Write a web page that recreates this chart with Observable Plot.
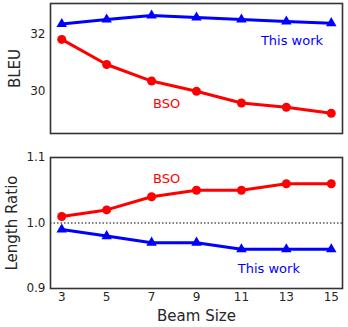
<!DOCTYPE html>
<html><head><meta charset="utf-8">
<script src="https://cdn.jsdelivr.net/npm/d3@7"></script>
<script src="https://cdn.jsdelivr.net/npm/@observablehq/plot@0.6"></script>
<style>body{margin:0;background:#fff;} #chart{width:348px;} svg{display:block;}</style>
</head><body><div id="chart"></div>
<script>
const beamSizes = [3, 5, 7, 9, 11, 13, 15];
const bleuThisWork = [32.36, 32.52, 32.66, 32.59, 32.52, 32.45, 32.39];
const bleuBSO = [31.82, 30.94, 30.36, 30.0, 29.59, 29.44, 29.23];
const ratioThisWork = [0.99, 0.98, 0.97, 0.97, 0.96, 0.96, 0.96];
const ratioBSO = [1.01, 1.02, 1.04, 1.05, 1.05, 1.06, 1.06];
const bleuTicks = [30, 32];
const ratioTicks = [0.9, 1.0, 1.1];

const RED = "#ff0000", BLUE = "#0000ff", INK = "#262626";
const mk = (vals) => beamSizes.map((b, i) => ({b, v: vals[i]}));
const style = {fontFamily: "DejaVu Sans", fontSize: "12px", color: INK, background: "#fff", overflow: "visible"};

function seriesMarks(data, color, symbol, r) {
  return [
    Plot.line(data, {x: "b", y: "v", stroke: color, strokeWidth: 3}),
    Plot.dot(data, {x: "b", y: "v", fill: color, stroke: "none", symbol, r})
  ];
}
function yLabel(text, dx) {
  return Plot.text([text], {text: d => d, frameAnchor: "left", rotate: -90, dx, textAnchor: "middle", lineAnchor: "middle", fontSize: 15, fill: INK});
}

const topPlot = Plot.plot({
  width: 348, height: 150,
  marginLeft: 50, marginRight: 6, marginTop: 3, marginBottom: 17,
  style,
  x: {domain: [2.5, 15.5], axis: null},
  y: {domain: [28.52, 33.08]},
  marks: [
    Plot.axisY(bleuTicks, {tickSize: 0, tickPadding: 5, label: null, tickFormat: d => String(d), fontSize: 12}),
    ...seriesMarks(mk(bleuThisWork), BLUE, "triangle", 3.9),
    ...seriesMarks(mk(bleuBSO), RED, "circle", 4.5),
    Plot.text(["This work"], {x: 13.25, y: 31.78, text: d => d, fill: BLUE, fontSize: 13}),
    Plot.text(["BSO"], {x: 7.67, y: 29.57, text: d => d, fill: RED, fontSize: 13}),
    yLabel("BLEU", -35),
    Plot.frame({stroke: "#333", strokeWidth: 1.6})
  ]
});

const bottomPlot = Plot.plot({
  width: 348, height: 177,
  marginLeft: 50, marginRight: 6, marginTop: 7, marginBottom: 39,
  style,
  x: {domain: [2.5, 15.5]},
  y: {domain: [0.9, 1.1]},
  marks: [
    Plot.axisY(ratioTicks, {tickSize: 0, tickPadding: 5, label: null, tickFormat: d3.format(".1f"), fontSize: 12}),
    Plot.axisX(beamSizes, {tickSize: 0, tickPadding: 4, label: null, fontSize: 12}),
    Plot.ruleY([1.0], {stroke: "#000", strokeWidth: 1.2, strokeDasharray: "1.5,2"}),
    ...seriesMarks(mk(ratioThisWork), BLUE, "triangle", 3.9),
    ...seriesMarks(mk(ratioBSO), RED, "circle", 4.5),
    Plot.text(["BSO"], {x: 7.67, y: 1.068, text: d => d, fill: RED, fontSize: 13}),
    Plot.text(["This work"], {x: 12.22, y: 0.93, text: d => d, fill: BLUE, fontSize: 13}),
    yLabel("Length Ratio", -38),
    Plot.text(["Beam Size"], {text: d => d, frameAnchor: "bottom", dy: 28, lineAnchor: "middle", fontSize: 15, fill: INK}),
    Plot.frame({stroke: "#333", strokeWidth: 1.6})
  ]
});

const c = document.getElementById("chart");
c.appendChild(topPlot);
c.appendChild(bottomPlot);
</script>
</body></html>
